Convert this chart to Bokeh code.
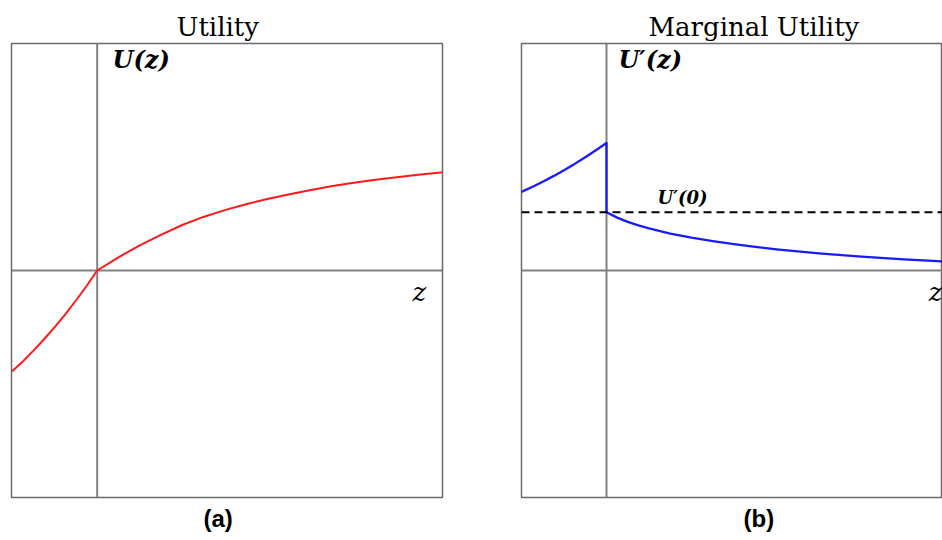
from bokeh.plotting import figure
from bokeh.layouts import row
from bokeh.models import Title, Span, Label, Range1d
from bokeh.embed import file_html
from bokeh.resources import INLINE

# ---- data ----
# Panel (a): utility U(z)
util_z = [-1.0, -0.875, -0.75, -0.625, -0.5, -0.375, -0.25, -0.125, 0.0,
          0.25, 0.5, 0.75, 1.0, 1.25, 1.5, 1.75, 2.0, 2.25, 2.5, 2.75,
          3.0, 3.25, 3.5, 3.75, 4.07]
util_u = [-1.185, -1.07, -0.943, -0.809, -0.666, -0.515, -0.353, -0.182, 0.0,
          0.155, 0.295, 0.42, 0.535, 0.63, 0.71, 0.78, 0.84, 0.895, 0.945, 0.99,
          1.03, 1.065, 1.095, 1.122, 1.155]

# Panel (b): marginal utility U'(z) (jump at z = 0)
mu_z = [-1.0, -0.875, -0.75, -0.625, -0.5, -0.375, -0.25, -0.125, 0.0, 0.0,
        0.125, 0.25, 0.375, 0.5, 0.75, 1.0, 1.25, 1.5, 1.75, 2.0, 2.5, 3.0, 3.5, 3.953]
mu_u = [0.925, 0.983, 1.045, 1.11, 1.18, 1.254, 1.333, 1.414, 1.5, 0.685,
        0.622, 0.572, 0.53, 0.495, 0.435, 0.386, 0.345, 0.309, 0.277, 0.249,
        0.201, 0.162, 0.131, 0.108]
mu_at_zero = 0.685

titles = ["Utility", "Marginal Utility"]
captions = ["(a)", "(b)"]

AX = "#808080"
FR = "#6a6a6a"
SERIF = "DejaVu Serif"


def base(width, bl, br, x0, x1):
    p = figure(width=width, height=540, output_backend="svg", toolbar_location=None,
               x_range=Range1d(x0, x1), y_range=Range1d(-2.67, 2.67),
               x_axis_location=None, y_axis_location=None,
               min_border_left=bl, min_border_right=br,
               min_border_top=43, min_border_bottom=43)
    p.grid.visible = False
    p.outline_line_color = FR
    p.outline_line_width = 1.5
    for dim in ("width", "height"):
        s = Span(location=0, dimension=dim, line_color=AX, line_width=2, level="underlay")
        p.add_layout(s)
    return p


def add_titles(p, title, title_off, caption, cap_off):
    p.add_layout(Title(text=title, align="left", offset=title_off, text_font=SERIF,
                       text_font_size="26px", text_font_style="normal",
                       text_color="black", standoff=4), "above")
    p.add_layout(Title(text=caption, align="left", offset=cap_off, text_font="Liberation Sans",
                       text_font_size="24px", text_font_style="bold",
                       text_color="black"), "below")


# ---- panel (a) ----
pa = base(471, 11, 29, -1.008, 4.062)
pa.line(util_z, util_u, line_color="#ff1a1a", line_width=2, line_join="round")
add_titles(pa, titles[0], 165, captions[0], 192)
pa.add_layout(Label(x=0.18, y=2.31, text="U(z)", text_font=SERIF, text_font_size="24px",
                    text_font_style="bold italic", text_color="black"))
pa.add_layout(Label(x=3.71, y=-0.43, text="z", text_font=SERIF, text_font_size="26px",
                    text_font_style="italic", text_color="black"))

# ---- panel (b) ----
pb = base(471, 50, 0, -1.0, 3.953)
pb.add_layout(Span(location=mu_at_zero, dimension="width", line_color="black",
                   line_width=2, line_dash="8 5"))
pb.line(mu_z, mu_u, line_color="#1a1aff", line_width=2.3, line_join="round")
add_titles(pb, titles[1], 127, captions[1], 222)
pb.add_layout(Label(x=0.14, y=2.31, text="U′(z)", text_font=SERIF, text_font_size="24px",
                    text_font_style="bold italic", text_color="black"))
pb.add_layout(Label(x=0.6, y=0.74, text="U′(0)", text_font=SERIF, text_font_size="18px",
                    text_font_style="bold italic", text_color="black"))
pb.add_layout(Label(x=3.79, y=-0.43, text="z", text_font=SERIF, text_font_size="26px",
                    text_font_style="italic", text_color="black"))

layout = row(pa, pb)
open("out.html", "w").write(file_html(layout, INLINE))
